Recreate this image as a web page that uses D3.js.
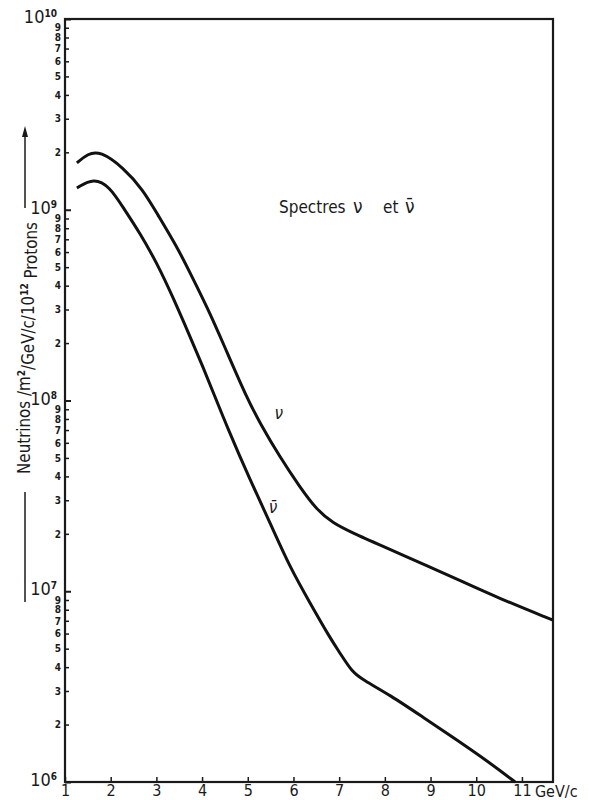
<!DOCTYPE html>
<html>
<head>
<meta charset="utf-8">
<script src="https://cdn.jsdelivr.net/npm/d3@7"></script>
<style>
  body { margin: 0; background: #fff; }
  text { font-family: "DejaVu Sans Condensed", "DejaVu Sans", sans-serif; fill: #1a1a1a; }
</style>
</head>
<body>
<div id="chart"></div>
<script>
// data (momentum in GeV/c, flux per m2/GeV/c/10^12 protons)
var nuP = [1.26, 1.5, 1.77, 2.27, 2.71, 3.01, 3.45, 3.74, 4.11, 4.46, 4.98, 5.27, 5.70, 6.14, 6.51, 6.86, 7.30, 7.89, 8.99, 9.71, 10.45, 11.68];
var nuFlux = [1.76e9, 1.97e9, 2.03e9, 1.67e9, 1.27e9, 9.6e8, 6.4e8, 4.66e8, 3.09e8, 2.0e8, 1.03e8, 7.6e7, 5.06e7, 3.52e7, 2.67e7, 2.28e7, 2.02e7, 1.75e7, 1.34e7, 1.12e7, 9.3e6, 7.05e6];

var nubarP = [1.26, 1.63, 1.98, 2.27, 2.64, 3.01, 3.36, 3.74, 4.02, 4.28, 4.54, 5.05, 5.49, 5.92, 6.36, 6.80, 7.02, 7.28, 7.52, 8.11, 8.83, 9.58, 10.30, 10.85];
var nubarFlux = [1.30e9, 1.47e9, 1.32e9, 1.03e9, 7.55e8, 5.26e8, 3.49e8, 2.15e8, 1.50e8, 1.05e8, 7.35e7, 3.83e7, 2.28e7, 1.34e7, 8.7e6, 5.69e6, 4.74e6, 3.78e6, 3.43e6, 2.86e6, 2.19e6, 1.66e6, 1.26e6, 1.0e6];

var xTicks = [1, 2, 3, 4, 5, 6, 7, 8, 9, 10, 11];
var yExponents = [6, 7, 8, 9, 10];
var yMinorDigits = [2, 3, 4, 5, 6, 7, 8, 9];

// Set up the svg params
var svgWidth = 589;
var svgHeight = 800;
var margin = { top: 19, right: 36, bottom: 18, left: 65 };
var width = svgWidth - margin.left - margin.right;
var height = svgHeight - margin.top - margin.bottom;

var svg = d3.select("#chart").append("svg")
    .attr("width", svgWidth)
    .attr("height", svgHeight);

var chartGroup = svg.append("g")
    .attr("transform", `translate(${margin.left}, ${margin.top})`);

// scales
var xScale = d3.scaleLinear().domain([1, 11.68]).range([0, width]);
var yScale = d3.scaleLog().domain([1e6, 1e10]).range([height, 0]);

// y ticks
var majorVals = yExponents.map(e => Math.pow(10, e));
var minorVals = [];
yExponents.slice(0, -1).forEach(e => {
    yMinorDigits.forEach(d => minorVals.push(d * Math.pow(10, e)));
});

var minorAxis = chartGroup.append("g")
    .call(d3.axisLeft(yScale).tickValues(minorVals).tickSize(-4).tickSizeOuter(0).tickPadding(4)
        .tickFormat(d => Math.round(d / Math.pow(10, Math.floor(Math.log10(d) + 1e-9)))));
minorAxis.select(".domain").remove();
minorAxis.selectAll("text").style("font-size", "10px").style("font-weight", "bold");
minorAxis.selectAll("line").attr("stroke", "#1a1a1a").attr("stroke-width", 1.5);

var majorAxis = chartGroup.append("g")
    .call(d3.axisLeft(yScale).tickValues(majorVals).tickSize(-6).tickSizeOuter(0).tickPadding(8).tickFormat(""));
majorAxis.select(".domain").remove();
majorAxis.selectAll("line").attr("stroke", "#1a1a1a").attr("stroke-width", 2);
majorAxis.selectAll(".tick text").each(function(d) {
    var t = d3.select(this).attr("dy", "0.2em").style("font-size", "18px");
    t.append("tspan").text("10");
    t.append("tspan").attr("dy", "-0.6em").style("font-size", "10px").style("font-weight", "bold")
        .text(Math.round(Math.log10(d)));
});

// x axis
var xAxis = chartGroup.append("g")
    .attr("transform", `translate(0, ${height})`)
    .call(d3.axisBottom(xScale).tickValues(xTicks).tickSize(-5).tickSizeOuter(0).tickPadding(3).tickFormat(d3.format("d")));
xAxis.select(".domain").remove();
xAxis.selectAll("line").attr("stroke", "#1a1a1a").attr("stroke-width", 1.5);
xAxis.selectAll("text").style("font-size", "16px");

chartGroup.append("text")
    .attr("x", xScale(11) + 13)
    .attr("y", height + 15)
    .style("font-size", "16px")
    .text("GeV/c");

// frame
chartGroup.append("rect")
    .attr("width", width)
    .attr("height", height)
    .attr("fill", "none")
    .attr("stroke", "#1a1a1a")
    .attr("stroke-width", 2.2);

// curves
var line = d3.line()
    .x(d => xScale(d[0]))
    .y(d => yScale(d[1]))
    .curve(d3.curveBasis);

chartGroup.append("path")
    .datum(d3.zip(nuP, nuFlux))
    .attr("d", line)
    .attr("fill", "none")
    .attr("stroke", "#111")
    .attr("stroke-width", 3);

chartGroup.append("path")
    .datum(d3.zip(nubarP, nubarFlux))
    .attr("d", line)
    .attr("fill", "none")
    .attr("stroke", "#111")
    .attr("stroke-width", 3);

// labels on the curves
chartGroup.append("text")
    .attr("x", xScale(5.68))
    .attr("y", yScale(8.6e7))
    .attr("dy", "0.35em")
    .attr("text-anchor", "middle")
    .style("font-size", "17px")
    .style("font-style", "italic")
    .text("\u03BD");

chartGroup.append("text")
    .attr("x", xScale(5.55))
    .attr("y", yScale(2.77e7))
    .attr("dy", "0.35em")
    .attr("text-anchor", "middle")
    .style("font-size", "17px")
    .style("font-style", "italic")
    .text("\u03BD\u0304");

// title inside the frame
var spectres = chartGroup.append("text")
    .attr("y", 194)
    .style("font-size", "17px");
spectres.append("tspan").attr("x", 214).text("Spectres");
spectres.append("tspan").attr("x", 288).style("font-size", "19px").text("\u03BD");
spectres.append("tspan").attr("x", 318).text("et");
spectres.append("tspan").attr("x", 340).style("font-size", "19px").text("\u03BD\u0304");

// y axis title with its rule and arrow
var titleX = 25;
var yTitle = svg.append("text")
    .attr("transform", `translate(${titleX + 5}, 348) rotate(-90)`)
    .attr("text-anchor", "middle")
    .style("font-size", "16.8px");
yTitle.append("tspan").text("Neutrinos /m");
yTitle.append("tspan").attr("dy", "-0.55em").style("font-size", "10px").style("font-weight", "bold").text("2");
yTitle.append("tspan").attr("dy", "0.55em").text("/GeV/c/10");
yTitle.append("tspan").attr("dy", "-0.55em").style("font-size", "10px").style("font-weight", "bold").text("12");
yTitle.append("tspan").attr("dy", "0.55em").text(" Protons");

svg.append("line")
    .attr("x1", titleX).attr("x2", titleX)
    .attr("y1", 492).attr("y2", 602)
    .attr("stroke", "#1a1a1a").attr("stroke-width", 1.5);

svg.append("line")
    .attr("x1", titleX).attr("x2", titleX)
    .attr("y1", 208).attr("y2", 132)
    .attr("stroke", "#1a1a1a").attr("stroke-width", 1.5);

svg.append("path")
    .attr("d", `M${titleX},126 L${titleX - 3},137 L${titleX + 3},137 Z`)
    .attr("fill", "#1a1a1a");
</script>
</body>
</html>
